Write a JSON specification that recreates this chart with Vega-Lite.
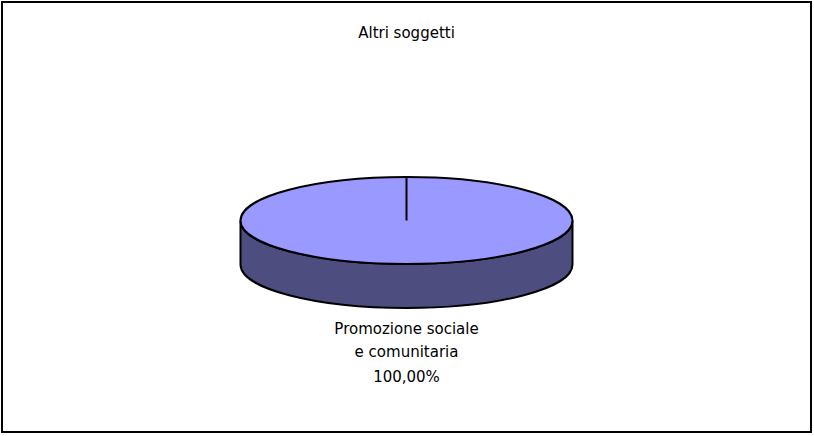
{
  "$schema": "https://vega.github.io/schema/vega-lite/v6.json",
  "width": 814,
  "height": 436,
  "autosize": {"type": "fit", "contains": "padding"},
  "padding": {"left": 2, "top": 2, "right": 3, "bottom": 4},
  "background": "white",
  "view": {"stroke": "black", "strokeWidth": 2, "fill": "white"},
  "config": {
    "view": {"stroke": "black", "strokeWidth": 2, "fill": "white"},
    "text": {"font": "DejaVu Sans", "fontSize": 15, "color": "black"}
  },
  "data": {
    "values": [
      {"titolo": "Altri soggetti", "categoria": "Promozione sociale\ne comunitaria", "quota": 100, "percentuale": "100,00%"}
    ]
  },
  "layer": [
    {
      "mark": {
        "type": "point",
        "shape": "M-1 0.0211 L-1 0.2861 A1 0.262 0 0 0 1 0.2861 L1 0.0211 A1 0.262 0 0 1 -1 0.0211 Z",
        "size": 110224,
        "filled": true,
        "fill": "#4D4D80",
        "fillOpacity": 1,
        "stroke": "black",
        "strokeWidth": 2,
        "opacity": 1
      },
      "encoding": {"detail": {"field": "categoria", "type": "nominal"}}
    },
    {
      "mark": {
        "type": "point",
        "shape": "M-1 0.0211 A1 0.262 0 1 1 1 0.0211 A1 0.262 0 1 1 -1 0.0211 Z",
        "size": 110224,
        "filled": true,
        "fill": "#9999FF",
        "fillOpacity": 1,
        "stroke": "black",
        "strokeWidth": 2,
        "opacity": 1
      },
      "encoding": {"detail": {"field": "categoria", "type": "nominal"}}
    },
    {
      "mark": {
        "type": "point",
        "shape": "M0 0.0211 L0 -0.241",
        "size": 110224,
        "filled": false,
        "stroke": "black",
        "strokeWidth": 2,
        "opacity": 1
      },
      "encoding": {"detail": {"field": "categoria", "type": "nominal"}}
    },
    {
      "mark": {"type": "text", "baseline": "middle", "align": "center", "dy": -184},
      "encoding": {"text": {"field": "titolo", "type": "nominal"}}
    },
    {
      "mark": {"type": "text", "baseline": "middle", "align": "center", "dy": 112, "lineBreak": "\n", "lineHeight": 23},
      "encoding": {"text": {"field": "categoria", "type": "nominal"}}
    },
    {
      "mark": {"type": "text", "baseline": "middle", "align": "center", "dy": 160},
      "encoding": {"text": {"field": "percentuale", "type": "nominal"}}
    }
  ]
}
